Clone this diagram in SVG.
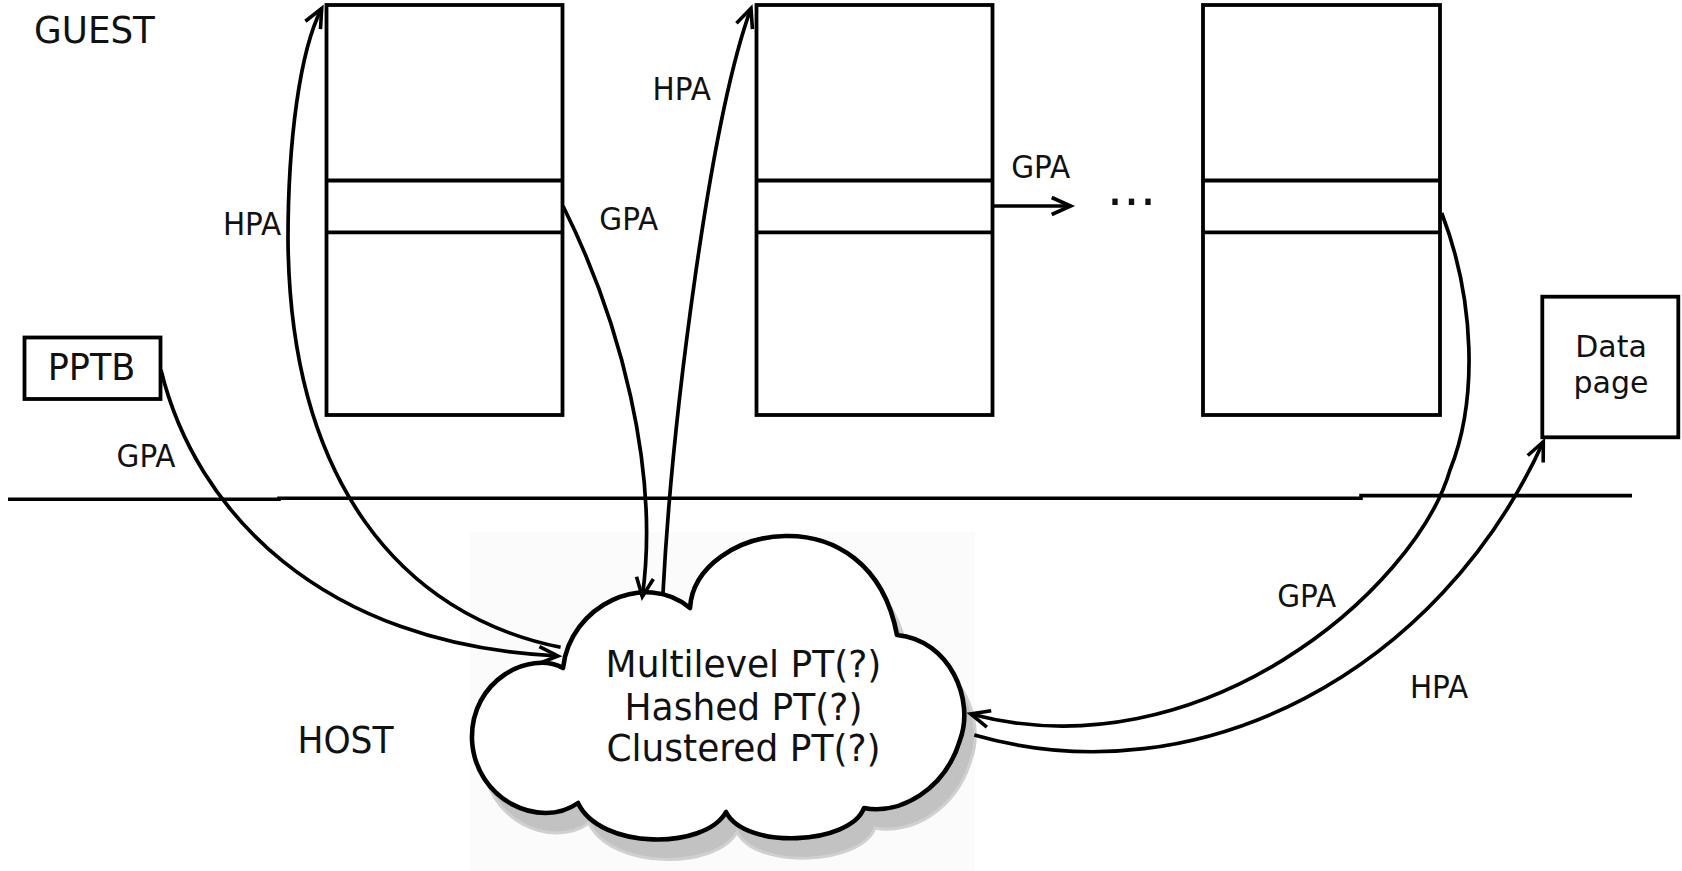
<svg xmlns="http://www.w3.org/2000/svg" width="1682" height="871" viewBox="0 0 1682 871">
  <defs>
    <style>
      .box { fill: #fff; stroke: #000; stroke-width: 3.8; }
      .div { stroke: #000; stroke-width: 3.8; fill: none; }
      .edge { fill: none; stroke: #000; stroke-width: 3.7; }
      .big { font-family: "DejaVu Sans", Verdana, sans-serif; font-size: 35.7px; fill: #111; text-anchor: middle; }
      .lbl { font-family: "DejaVu Sans", Verdana, sans-serif; font-size: 29.5px; fill: #111; text-anchor: middle; }
      .cloud-text { font-family: "DejaVu Sans", Verdana, sans-serif; font-size: 36px; fill: #111; text-anchor: middle; }
      .shadow { fill: #c2c2c2; stroke: #d0d0d0; stroke-width: 3; }
    </style>
    <marker id="open-arrow" markerUnits="userSpaceOnUse" orient="auto" refX="0" refY="0" markerWidth="40" markerHeight="40" overflow="visible">
      <path d="M-19,-8.5 L0,0 L-19,8.5" fill="none" stroke="#000" stroke-width="3.6"/>
    </marker>
  </defs>

  <rect width="1682" height="871" fill="#fff"/>

  <!-- guest / host boundary -->
  <path id="boundary" d="M8,499.2 H279 V498.2 H1361 V495.6 H1632" fill="none" stroke="#000" stroke-width="3.6"/>

  <text class="big" transform="translate(94.5,42.7) scale(1,1.06)">GUEST</text>
  <text class="big" transform="translate(345.5,752.7) scale(1,1.06)" style="font-size:34.5px">HOST</text>

  <!-- page-table pages in guest memory -->
  <g id="page1">
    <rect class="box" x="326.5" y="5" width="236" height="410"/>
    <path class="div" d="M326.5,180.5 H562.5 M326.5,232.3 H562.5"/>
  </g>
  <g id="page2">
    <rect class="box" x="756.5" y="5" width="236" height="410"/>
    <path class="div" d="M756.5,180.5 H992.5 M756.5,232.3 H992.5"/>
  </g>
  <g id="page3">
    <rect class="box" x="1203" y="5" width="237" height="410"/>
    <path class="div" d="M1203,180.5 H1440 M1203,232.3 H1440"/>
  </g>

  <g id="pptb">
    <rect class="box" x="24.5" y="337.5" width="136" height="61.5"/>
    <text class="big" transform="translate(91.5,380) scale(1,1.06)" style="font-size:35px">PPTB</text>
  </g>

  <g id="data-page">
    <rect class="box" x="1542.3" y="296.7" width="136" height="140.6"/>
    <text class="lbl" x="1611" y="356.7" style="font-size:30px">Data</text>
    <text class="lbl" x="1611" y="393.3" style="font-size:30px">page</text>
  </g>

  <!-- host page-table structure: cloud with drop shadow -->
  <g id="host-pt">
    <rect x="470" y="532" width="505" height="339" fill="#fbfbfb"/>
    <path class="shadow" transform="translate(11,20)" d="M563,668 C570,605 645,570 690,608 C695,525 870,490 897,635 C950,640 975,700 960,740 C945,790 900,815 864,808 C850,845 745,850 726,812 C705,850 600,850 578,803 C540,830 475,800 472,740 C470,680 530,650 563,668 Z"/>
    <path fill="#fff" stroke="#000" stroke-width="4.6" stroke-linejoin="round" d="M563,668 C570,605 645,570 690,608 C695,525 870,490 897,635 C950,640 975,700 960,740 C945,790 900,815 864,808 C850,845 745,850 726,812 C705,850 600,850 578,803 C540,830 475,800 472,740 C470,680 530,650 563,668 Z"/>
    <text class="cloud-text" transform="translate(743.5,676.7) scale(1,1.06)">Multilevel PT(?)</text>
    <text class="cloud-text" transform="translate(743.5,719.5) scale(1,1.06)">Hashed PT(?)</text>
    <text class="cloud-text" transform="translate(743.5,761) scale(1,1.06)">Clustered PT(?)</text>
  </g>

  <!-- translations -->
  <g id="connectors">
    <path class="edge" d="M161,370 C195,510 320,645 558,656" marker-end="url(#open-arrow)"/>
    <path class="edge" d="M560.6,647.3 C400,615 290,480 288,240 C288,140 300,50 321.7,8.3" marker-end="url(#open-arrow)"/>
    <path class="edge" d="M563,206 C620,320 660,470 642.3,596.7" marker-end="url(#open-arrow)"/>
    <path class="edge" d="M663,593 C672,420 710,120 751,8.3" marker-end="url(#open-arrow)"/>
    <path class="edge" d="M992.5,206 H1070.7" marker-end="url(#open-arrow)"/>
    <path class="edge" d="M1441.7,213 C1475,300 1478,400 1450,470 C1415,590 1200,775 970.7,714" marker-end="url(#open-arrow)"/>
    <path class="edge" d="M974.3,735 C1200,800 1440,670 1543.3,441.7" marker-end="url(#open-arrow)"/>
  </g>

  <g id="edge-labels">
    <text class="lbl" transform="translate(146,466.7) scale(1,1.06)">GPA</text>
    <text class="lbl" transform="translate(252,235) scale(1,1.06)">HPA</text>
    <text class="lbl" transform="translate(628.8,230) scale(1,1.06)">GPA</text>
    <text class="lbl" transform="translate(681.7,100) scale(1,1.06)">HPA</text>
    <text class="lbl" transform="translate(1040.7,177.7) scale(1,1.06)">GPA</text>
    <text class="lbl" transform="translate(1306.7,606.7) scale(1,1.06)">GPA</text>
    <text class="lbl" transform="translate(1439,698.3) scale(1,1.06)">HPA</text>
  </g>

  <text id="more-pages" x="1106.7" y="205" style="font-family:'DejaVu Sans',Verdana,sans-serif;font-size:52px;fill:#111">...</text>
</svg>
